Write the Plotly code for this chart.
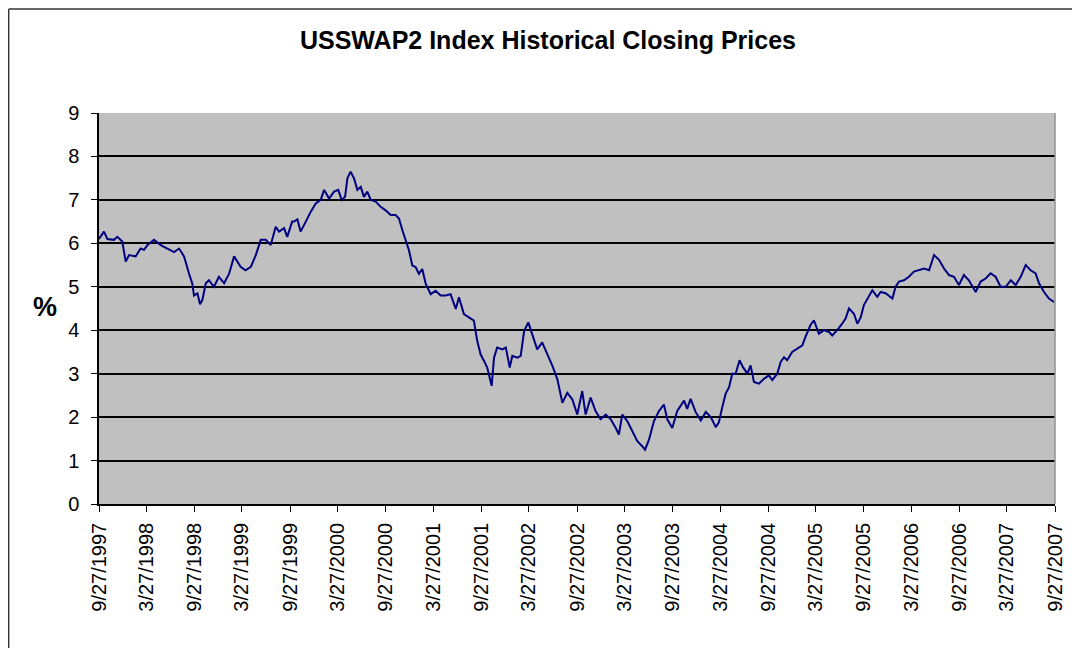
import plotly.graph_objects as go

dates = [
"1997-09-27","1997-10-16","1997-10-29","1997-11-23","1997-12-06","1997-12-25","1998-01-07","1998-01-20",
"1998-02-14","1998-03-05","1998-03-18","1998-03-31","1998-04-25","1998-05-21","1998-06-15","1998-07-11",
"1998-07-30","1998-08-18","1998-09-06","1998-09-18","1998-09-25","1998-10-08","1998-10-18","1998-10-27",
"1998-11-09","1998-11-21","1998-12-10","1998-12-29","1999-01-18","1999-02-06","1999-02-25","1999-03-22",
"1999-04-10","1999-04-30","1999-05-19","1999-06-07","1999-06-26","1999-07-15","1999-08-03","1999-08-16",
"1999-09-04","1999-09-16","1999-10-05","1999-10-12","1999-10-25","1999-11-06","1999-11-26","1999-12-15",
"2000-01-03","2000-01-22","2000-02-04","2000-02-23","2000-03-13","2000-03-29","2000-04-11","2000-04-24",
"2000-05-03","2000-05-15","2000-05-28","2000-06-10","2000-06-23","2000-07-05","2000-07-18","2000-07-31",
"2000-08-19","2000-09-07","2000-09-26","2000-10-15","2000-11-03","2000-11-16","2000-11-29","2000-12-12",
"2000-12-24","2001-01-06","2001-01-19","2001-01-31","2001-02-13","2001-02-26","2001-03-17","2001-04-05",
"2001-04-24","2001-05-13","2001-06-01","2001-06-21","2001-07-03","2001-07-22","2001-08-10","2001-08-29",
"2001-09-11","2001-09-24","2001-10-07","2001-10-19","2001-11-05","2001-11-14","2001-11-26","2001-12-16",
"2001-12-29","2002-01-13","2002-01-23","2002-02-11","2002-02-24","2002-03-09","2002-03-25","2002-04-09",
"2002-04-28","2002-05-17","2002-06-06","2002-06-25","2002-07-14","2002-08-02","2002-08-21","2002-09-09",
"2002-09-28","2002-10-17","2002-10-30","2002-11-18","2002-12-07","2002-12-26","2003-01-15","2003-02-03",
"2003-02-22","2003-03-06","2003-03-19","2003-04-07","2003-04-26","2003-05-15","2003-06-03","2003-06-14",
"2003-06-29","2003-07-18","2003-08-06","2003-08-25","2003-09-07","2003-09-26","2003-10-15","2003-10-28",
"2003-11-10","2003-11-22","2003-12-05","2003-12-24","2004-01-13","2004-02-01","2004-02-20","2004-03-10",
"2004-03-22","2004-04-04","2004-04-17","2004-04-30","2004-05-12","2004-05-25","2004-06-09","2004-06-22",
"2004-07-09","2004-07-21","2004-08-03","2004-08-22","2004-09-10","2004-09-29","2004-10-12","2004-10-31",
"2004-11-13","2004-11-26","2004-12-08","2004-12-27","2005-01-15","2005-02-04","2005-02-16","2005-03-07",
"2005-03-20","2005-04-08","2005-04-28","2005-05-17","2005-05-29","2005-06-17","2005-07-06","2005-07-19",
"2005-08-01","2005-08-20","2005-09-02","2005-09-15","2005-09-27","2005-10-16","2005-10-29","2005-11-17",
"2005-11-30","2005-12-19","2006-01-14","2006-01-26","2006-02-08","2006-02-27","2006-03-18","2006-04-06",
"2006-04-25","2006-05-15","2006-06-03","2006-06-22","2006-07-11","2006-07-30","2006-08-18","2006-09-06",
"2006-09-25","2006-10-14","2006-11-02","2006-11-28","2006-12-17","2007-01-05","2007-01-24","2007-02-12",
"2007-03-03","2007-03-23","2007-04-11","2007-04-30","2007-05-19","2007-06-07","2007-06-26","2007-07-15",
"2007-07-28","2007-08-16","2007-09-04","2007-09-23",
]

rates = [
6.10,6.27,6.10,6.08,6.15,6.04,5.58,5.73,
5.70,5.88,5.85,5.96,6.08,5.96,5.88,5.80,
5.88,5.70,5.30,5.08,4.80,4.85,4.60,4.70,
5.08,5.15,5.00,5.23,5.08,5.30,5.70,5.46,
5.38,5.46,5.73,6.08,6.08,5.96,6.38,6.27,
6.35,6.15,6.50,6.50,6.55,6.27,6.50,6.73,
6.92,7.00,7.23,7.03,7.19,7.23,7.00,7.07,
7.50,7.65,7.50,7.23,7.30,7.07,7.19,7.00,
6.96,6.84,6.76,6.65,6.65,6.57,6.30,6.07,
5.84,5.49,5.45,5.30,5.41,5.07,4.83,4.91,
4.80,4.80,4.83,4.49,4.76,4.37,4.30,4.22,
3.75,3.44,3.29,3.14,2.72,3.37,3.60,3.56,
3.60,3.14,3.41,3.37,3.41,3.98,4.18,3.91,
3.56,3.72,3.45,3.18,2.87,2.33,2.56,2.41,
2.06,2.60,2.06,2.45,2.14,1.95,2.06,1.95,
1.75,1.60,2.06,1.91,1.68,1.45,1.33,1.25,
1.48,1.91,2.14,2.29,1.95,1.75,2.14,2.27,
2.38,2.19,2.42,2.12,1.92,2.12,2.00,1.77,
1.88,2.23,2.54,2.69,3.00,3.00,3.31,3.15,
3.00,3.19,2.81,2.77,2.88,2.96,2.85,3.00,
3.27,3.38,3.31,3.50,3.58,3.65,3.85,4.12,
4.23,3.92,4.00,3.96,3.88,4.00,4.15,4.27,
4.50,4.38,4.15,4.30,4.58,4.77,4.92,4.77,
4.88,4.85,4.73,5.00,5.12,5.15,5.23,5.35,
5.38,5.42,5.38,5.73,5.62,5.42,5.27,5.23,
5.04,5.27,5.15,4.88,5.12,5.19,5.31,5.23,
5.00,5.00,5.15,5.04,5.23,5.50,5.38,5.31,
5.08,4.88,4.73,4.65,
]

tick_dates = ["1997-09-27","1998-03-27","1998-09-27","1999-03-27","1999-09-27","2000-03-27","2000-09-27",
              "2001-03-27","2001-09-27","2002-03-27","2002-09-27","2003-03-27","2003-09-27","2004-03-27",
              "2004-09-27","2005-03-27","2005-09-27","2006-03-27","2006-09-27","2007-03-27","2007-09-27"]
tick_labels = ["9/27/1997","3/27/1998","9/27/1998","3/27/1999","9/27/1999","3/27/2000","9/27/2000",
               "3/27/2001","9/27/2001","3/27/2002","9/27/2002","3/27/2003","9/27/2003","3/27/2004",
               "9/27/2004","3/27/2005","9/27/2005","3/27/2006","9/27/2006","3/27/2007","9/27/2007"]

FONT = "Liberation Sans, Arial, sans-serif"

fig = go.Figure()
fig.add_trace(go.Scatter(x=dates, y=rates, mode="lines",
                         line=dict(color="#000080", width=2), showlegend=False))

fig.update_layout(
    width=1072, height=640,
    margin=dict(l=91, r=25, t=105, b=144),
    paper_bgcolor="white", plot_bgcolor="#C0C0C0",
    title=dict(text="<b>USSWAP2 Index Historical Closing Prices</b>", xref="container", x=0.5037,
               xanchor="center", yref="container", y=0.95, yanchor="middle",
               font=dict(family=FONT, size=25, color="black")),
    font=dict(family=FONT, size=20, color="black"),
)
fig.update_xaxes(type="date", range=["1997-09-27", "2007-09-27"], tickmode="array",
                 tickvals=tick_dates, ticktext=tick_labels, tickangle=-90,
                 ticks="outside", ticklen=6, tickcolor="black", tickwidth=1.3,
                 showgrid=False, showline=True, linecolor="black", linewidth=1.5,
                 tickfont=dict(family=FONT, size=20), zeroline=False, ticklabelstandoff=3)
fig.update_yaxes(range=[0, 9], dtick=1, tickmode="linear",
                 ticks="outside", ticklen=6, tickcolor="black", tickwidth=1.3,
                 showgrid=True, gridcolor="black", gridwidth=1.7,
                 showline=True, linecolor="black", linewidth=1.5,
                 tickfont=dict(family=FONT, size=20), zeroline=False, ticklabelstandoff=8)
fig.add_annotation(text="<b>%</b>", xref="paper", yref="paper", x=-0.0565, y=0.504,
                   showarrow=False, font=dict(family=FONT, size=27, color="black"),
                   xanchor="center", yanchor="middle")
# plot-area right edge and outer chart frame
fig.add_shape(type="line", xref="paper", yref="paper", x0=1, x1=1, y0=0, y1=1,
              line=dict(color="#909090", width=1.5))
fig.add_shape(type="line", xref="paper", yref="paper", x0=-0.0945, x1=1.05, y0=1.266, y1=1.266,
              line=dict(color="#333333", width=1.5))
fig.add_shape(type="line", xref="paper", yref="paper", x0=-0.0945, x1=-0.0945, y0=-0.5, y1=1.266,
              line=dict(color="#333333", width=1.5))

fig.write_html("out.html")
